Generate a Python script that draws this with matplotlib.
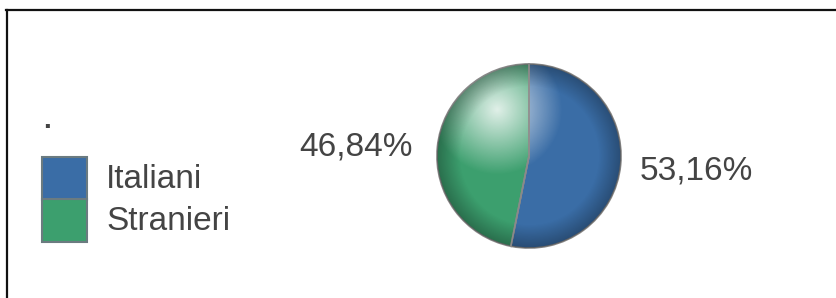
import numpy as np
import matplotlib.pyplot as plt
from matplotlib.patches import Rectangle, Circle
from matplotlib.lines import Line2D

categories = ["Italiani", "Stranieri"]
values = [53.16, 46.84]
colors = ["#3a6da6", "#3c9f6e"]

plt.rcParams["font.family"] = ["Liberation Sans", "DejaVu Sans"]
W, H = 836, 298
fig = plt.figure(figsize=(W / 100, H / 100), dpi=100)

def fx(px):
    return px / W

def fy(py):
    return 1 - py / H

# frame (top and left only)
fig.add_artist(Line2D([fx(6), fx(836)], [fy(10), fy(10)], color="#111111", lw=1.6))
fig.add_artist(Line2D([fx(7), fx(7)], [fy(10), fy(298)], color="#111111", lw=1.6))

# pie
cx, cy, r = 529, 156, 93
ax = fig.add_axes([fx(cx - r), fy(cy + r), 2 * r / W, 2 * r / H])
wedges, _ = ax.pie(values, colors=colors, startangle=90, counterclock=False,
                   radius=1, wedgeprops=dict(edgecolor="#8a8a8a", linewidth=1.2))
ax.set_xlim(-1.01, 1.01)
ax.set_ylim(-1.01, 1.01)
ax.set_aspect("auto")
ax.axis("off")

# glossy highlight clipped to the circle
n = 200
yy, xx = np.mgrid[1:-1:n * 1j, -1:1:n * 1j]
d = np.sqrt((xx + 0.35) ** 2 + (yy - 0.5) ** 2)
alpha = np.clip(0.85 - d * 1.2, 0, 0.85)
shade = np.clip((np.sqrt(xx ** 2 + yy ** 2) - 0.75) * 1.2, 0, 0.35)
img = np.zeros((n, n, 4))
img[..., :3] = 1.0
img[..., 3] = alpha
im = ax.imshow(img, extent=[-1, 1, -1, 1], zorder=3, interpolation="bilinear")
im.set_clip_path(Circle((0, 0), 1, transform=ax.transData))
dark = np.zeros((n, n, 4))
dark[..., 3] = shade
im2 = ax.imshow(dark, extent=[-1, 1, -1, 1], zorder=3, interpolation="bilinear")
im2.set_clip_path(Circle((0, 0), 1, transform=ax.transData))
ax.plot([0, 0], [0, 1], color="#8a8a8a", lw=1.2, zorder=4)
ang = np.deg2rad(90 - 360 * values[0] / 100)
ax.plot([0, np.cos(ang)], [0, np.sin(ang)], color="#8a8a8a", lw=1.2, zorder=4)

def fmt(v):
    return f"{v:.2f}%".replace(".", ",")

fig.text(fx(356), fy(147), fmt(values[1]), ha="center", va="center",
         fontsize=24, color="#444444")
fig.text(fx(696), fy(171), fmt(values[0]), ha="center", va="center",
         fontsize=24, color="#444444")

# legend
fig.text(fx(47), fy(121), ".", ha="center", va="center", fontsize=20,
         fontweight="bold", color="#444444")
sw_y = [157, 199]
text_y = [179, 222]
for c, lab, y0, ty in zip(colors, categories, sw_y, text_y):
    fig.add_artist(Rectangle((fx(42), fy(y0 + 43)), fx(45), 43 / H,
                             facecolor=c, edgecolor="#6b7b80", lw=1.5))
    fig.text(fx(106), fy(ty), lab, ha="left", va="center", fontsize=24, color="#444444")

fig.savefig("out.png", dpi=100)
